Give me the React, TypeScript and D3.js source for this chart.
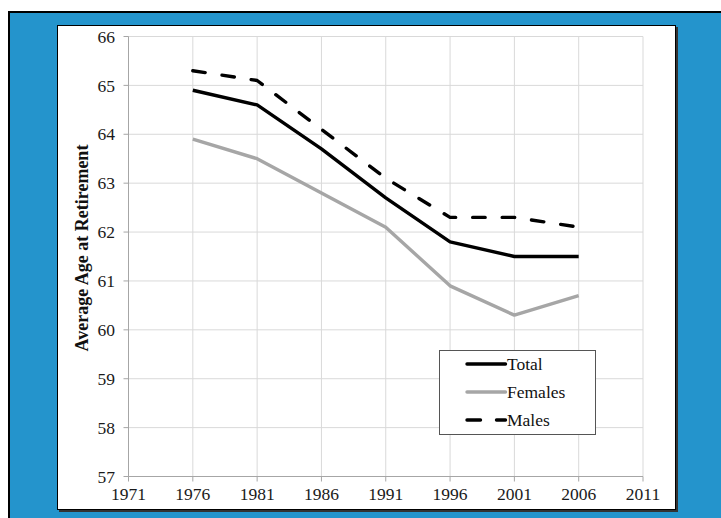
import React from "react";
import * as d3 from "d3";

const years = [1976, 1981, 1986, 1991, 1996, 2001, 2006];
const totalValues = [64.9, 64.6, 63.7, 62.7, 61.8, 61.5, 61.5];
const femaleValues = [63.9, 63.5, 62.8, 62.1, 60.9, 60.3, 60.7];
const maleValues = [65.3, 65.1, 64.1, 63.1, 62.3, 62.3, 62.1];
const xTicks = [1971, 1976, 1981, 1986, 1991, 1996, 2001, 2006, 2011];
const yTicks = [57, 58, 59, 60, 61, 62, 63, 64, 65, 66];
const seriesNames = ["Total", "Females", "Males"];

export default function App() {
  const W = 721, H = 518;
  const x = d3.scaleLinear().domain([1971, 2011]).range([128.5, 643]);
  const y = d3.scaleLinear().domain([57, 66]).range([476.5, 36.5]);
  const line = d3
    .line<number>()
    .x((_, i) => x(years[i]))
    .y((d) => y(d));
  const font = "'Liberation Serif', 'Times New Roman', serif";
  const series = [
    { name: seriesNames[0], values: totalValues, color: "#000", dash: undefined },
    { name: seriesNames[1], values: femaleValues, color: "#a6a6a6", dash: undefined },
    { name: seriesNames[2], values: maleValues, color: "#000", dash: "12.5,17" },
  ];
  const lg = { x: 439.5, y: 350.5, w: 156, h: 84 };
  return (
    <svg width={W} height={H} style={{ position: "absolute", left: 0, top: 0 }}>
      <rect x={0} y={0} width={W} height={H} fill="#fff" />
      <rect x={9} y={12} width={W} height={H} fill="#2494cc" stroke="#000" strokeWidth={2} />
      <rect x={59} y={27} width={619} height={485} fill="#333" />
      <rect x={57.5} y={25.5} width={618} height={484} fill="#fff" stroke="#000" strokeWidth={1} />
      {/* grid */}
      {yTicks.map((t) => (
        <line key={"gy" + t} x1={x(1971)} x2={x(2011)} y1={y(t)} y2={y(t)} stroke="#d9d9d9" />
      ))}
      {xTicks.map((t) => (
        <line key={"gx" + t} x1={x(t)} x2={x(t)} y1={y(57)} y2={y(66)} stroke="#d9d9d9" />
      ))}
      {/* axes */}
      <line x1={x(1971)} x2={x(1971)} y1={y(57)} y2={y(66)} stroke="#a6a6a6" />
      <line x1={x(1971)} x2={x(2011)} y1={y(57)} y2={y(57)} stroke="#a6a6a6" />
      {yTicks.map((t) => (
        <g key={"ty" + t}>
          <line x1={x(1971) - 5} x2={x(1971)} y1={y(t)} y2={y(t)} stroke="#a6a6a6" />
          <text x={115} y={y(t)} dy="0.35em" textAnchor="end" fontFamily={font} fontSize={17.5} fill="#1a1a1a">
            {t}
          </text>
        </g>
      ))}
      {xTicks.map((t) => (
        <g key={"tx" + t}>
          <line x1={x(t)} x2={x(t)} y1={y(57)} y2={y(57) + 5} stroke="#a6a6a6" />
          <text x={x(t)} y={500} textAnchor="middle" fontFamily={font} fontSize={17.5} fill="#1a1a1a">
            {t}
          </text>
        </g>
      ))}
      <text
        transform={`translate(88,248) rotate(-90)`}
        textAnchor="middle"
        fontFamily={font}
        fontSize={18}
        fontWeight="bold"
        fill="#111"
      >
        Average Age at Retirement
      </text>
      {series.map((s) => (
        <path
          key={s.name}
          d={line(s.values) || ""}
          fill="none"
          stroke={s.color}
          strokeWidth={3.4}
          strokeLinejoin="round"
          strokeLinecap={s.dash ? "round" : "butt"}
          strokeDasharray={s.dash}
        />
      ))}
      {/* legend */}
      <rect x={lg.x} y={lg.y} width={lg.w} height={lg.h} fill="#fff" stroke="#555" />
      {series.map((s, i) => {
        const ly = 364 + i * 28;
        return (
          <g key={"lg" + s.name}>
            <line
              x1={467}
              x2={505.5}
              y1={ly}
              y2={ly}
              stroke={s.color}
              strokeWidth={3.4}
              strokeLinecap="round"
              strokeDasharray={s.dash ? "13.5,16" : undefined}
            />
            <text x={507} y={ly} dy="0.35em" fontFamily={font} fontSize={17.5} fill="#111">
              {s.name}
            </text>
          </g>
        );
      })}
    </svg>
  );
}
